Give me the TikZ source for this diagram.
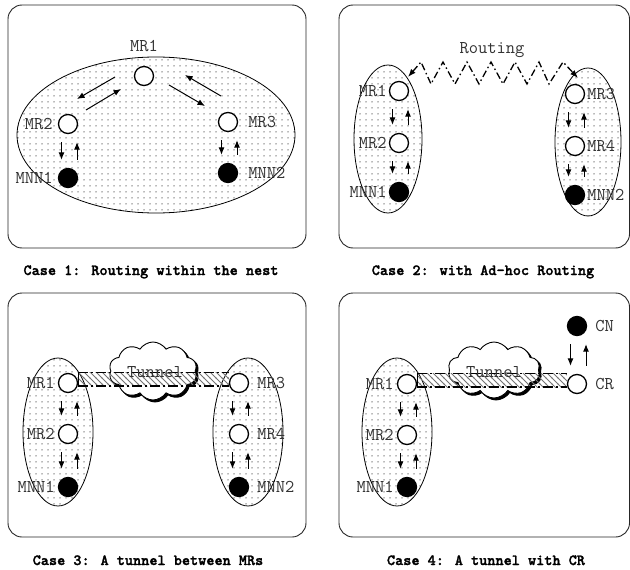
\documentclass[tikz,border=0pt]{standalone}
\usepackage{fontspec}
\newfontfamily\captionmono{lmmonolt10-bold.otf}[FakeBold=1.6]
\usetikzlibrary{arrows.meta,calc,shapes.symbols,patterns,shadows}

% light stipple used inside the nests
\pgfdeclarepatternformonly{sparsedots}{\pgfqpoint{-1pt}{-1pt}}{\pgfqpoint{1pt}{1pt}}{\pgfqpoint{6pt}{6pt}}{%
  \pgfpathcircle{\pgfqpoint{0pt}{0pt}}{0.75pt}\pgfusepath{fill}}
% diagonal hatching of the tunnel pipe
\pgfdeclarepatternformonly{pipehatch}{\pgfqpoint{-1pt}{-1pt}}{\pgfqpoint{7pt}{7pt}}{\pgfqpoint{6pt}{6pt}}{%
  \pgfsetlinewidth{0.9pt}%
  \pgfpathmoveto{\pgfqpoint{-0.5pt}{6.5pt}}\pgfpathlineto{\pgfqpoint{6.5pt}{-0.5pt}}\pgfusepath{stroke}}

\tikzset{
  panel/.style={draw=black!85, line width=0.9pt, rounded corners=14pt},
  nest/.style={draw=black, line width=0.8pt, pattern=sparsedots, pattern color=black!55},
  router/.style={circle, draw=black, line width=1.3pt, fill=white, minimum size=19pt, inner sep=0pt},
  host/.style={router, fill=black},
  lbl/.style={font=\ttfamily\fontsize{18}{18}\selectfont, text=black!80, inner sep=0pt},
  caption/.style={font=\captionmono\fontsize{15.5}{16}\selectfont, inner sep=0pt, anchor=base},
  hop/.style={-{Latex[length=7.5pt,width=6pt]}, line width=1pt},
  zigzagroute/.style={{Latex[length=8pt,width=6pt]}-{Latex[length=8pt,width=6pt]}, line width=1.3pt,
    dash pattern=on 7pt off 3pt on 1.5pt off 3pt},
  cloudbox/.style={cloud, cloud puffs=10, cloud puff arc=115, draw=black, line width=0.9pt, fill=white,
    inner sep=0pt, copy shadow={shadow xshift=2pt, shadow yshift=-2pt, fill=black, draw=black}},
  pipeedge/.style={line width=1.1pt, dash pattern=on 10pt off 3pt on 2pt off 3pt},
}

% a downward and an upward arrow between two stacked nodes
\newcommand{\hoppair}[2]{%
  \draw[hop, shorten <=8pt, shorten >=8pt] ([xshift=-6.5pt]#1.south) -- ([xshift=-6.5pt]#2.north);
  \draw[hop, shorten <=8pt, shorten >=8pt] ([xshift=9pt]#2.north) -- ([xshift=9pt]#1.south);}

% hatched tunnel pipe from the east side of #1 to the west side of #2
\newcommand{\pipe}[2]{%
  \fill[pattern=pipehatch, pattern color=black!55] (#1.east |- #1.north) rectangle ($(#2.west)+(0,3)$);
  \draw[pipeedge] (#1.east |- #1.north) -- (#2.west |- #1.north);
  \draw[pipeedge] ($(#1.east)+(0,3)$) -- ($(#2.west)+(0,3)$);
  \draw[line width=1.1pt] (#1.east |- #1.north) -- ($(#1.east)+(0,3)$);}

\begin{document}
\begin{tikzpicture}[x=1pt, y=-1pt]
\useasboundingbox (0,0) rectangle (630,570);

% ---------------- Case 1 ----------------
\draw[panel] (8,5) rectangle (306,248);
\path[nest] (156,135) ellipse [x radius=139, y radius=78];
\node[router, label={[lbl,label distance=14pt]above:MR1}] (p1mr1) at (144,76) {};
\node[router, label={[lbl,label distance=5pt]left:MR2}] (p1mr2) at (68,124) {};
\node[router, label={[lbl,label distance=10pt]right:MR3}] (p1mr3) at (228,122) {};
\node[host, label={[lbl,label distance=5pt]left:MNN1}] (p1mnn1) at (68,178) {};
\node[host, label={[lbl,label distance=10pt]right:MNN2}] (p1mnn2) at (228,173) {};
\draw[hop] ($(p1mr1)+(-29,1)$) -- ($(p1mr1)+(-67,23)$);
\draw[hop] ($(p1mr2)+(18,-14)$) -- ($(p1mr2)+(53,-35)$);
\draw[hop] ($(p1mr1)+(25,9)$) -- ($(p1mr1)+(61,30)$);
\draw[hop] ($(p1mr3)+(-7,-26)$) -- ($(p1mr3)+(-43,-47)$);
\hoppair{p1mr2}{p1mnn1}
\hoppair{p1mr3}{p1mnn2}
\node[caption] (cap1) at (151,275) {Case 1: Routing within the nest};

% ---------------- Case 2 ----------------
\draw[panel] (339,5) rectangle (629.5,248);
\path[nest] (388,139) ellipse [x radius=34, y radius=74];
\path[nest] (588,142) ellipse [x radius=33, y radius=74];
\node[router, label={[lbl,label distance=2pt]left:MR1}] (p2mr1) at (399,91) {};
\node[router, label={[lbl,label distance=2pt]left:MR2}] (p2mr2) at (399,143) {};
\node[host, label={[lbl,label distance=2pt]left:MNN1}] (p2mnn1) at (399,192) {};
\node[router, label={[lbl,label distance=2pt]right:MR3}] (p2mr3) at (575,94) {};
\node[router, label={[lbl,label distance=2pt]right:MR4}] (p2mr4) at (575,146) {};
\node[host, label={[lbl,label distance=2pt]right:MNN2}] (p2mnn2) at (575,195) {};
\hoppair{p2mr1}{p2mr2}
\hoppair{p2mr2}{p2mnn1}
\hoppair{p2mr3}{p2mr4}
\hoppair{p2mr4}{p2mnn2}
\node[lbl, anchor=base] (p2route) at (492,53) {Routing};
\draw[zigzagroute] ($(p2mr1)+(9,-14)$) -- (421,62) -- (431,84) -- (443,62) -- (455,84) -- (467,62)
  -- (479,84) -- (491,62) -- (503,84) -- (515,62) -- (527,84) -- (539,62) -- (549,84) -- (563,62)
  -- ($(p2mr3)+(3,-16)$);
\node[caption] (cap2) at (483,275) {Case 2: with Ad-hoc Routing};

% ---------------- Case 3 ----------------
\draw[panel] (8,293) rectangle (306,537);
\path[nest] (58,432) ellipse [x radius=35, y radius=74];
\path[nest] (248,432) ellipse [x radius=35, y radius=74];
\node[router, label={[lbl,label distance=3pt]left:MR1}] (p3mr1) at (68,383) {};
\node[router, label={[lbl,label distance=3pt]left:MR2}] (p3mr2) at (68,434) {};
\node[host, label={[lbl,label distance=3pt]left:MNN1}] (p3mnn1) at (68,487) {};
\node[router, label={[lbl,label distance=8pt]right:MR3}] (p3mr3) at (239,383) {};
\node[router, label={[lbl,label distance=8pt]right:MR4}] (p3mr4) at (239,434) {};
\node[host, label={[lbl,label distance=8pt]right:MNN2}] (p3mnn2) at (239,487) {};
\hoppair{p3mr1}{p3mr2}
\hoppair{p3mr2}{p3mnn1}
\hoppair{p3mr3}{p3mr4}
\hoppair{p3mr4}{p3mnn2}
\node[cloudbox, minimum width=88pt, minimum height=58pt] (p3cloud) at (153,371) {};
\pipe{p3mr1}{p3mr3}
\node[lbl] (p3tunnel) at ($(p3cloud.center)+(2,1)$) {Tunnel};
\node[caption] (cap3) at (148,565) {Case 3: A tunnel between MRs};

% ---------------- Case 4 ----------------
\draw[panel] (339,293) rectangle (629.5,537);
\path[nest] (397,432) ellipse [x radius=35, y radius=74];
\node[router, label={[lbl,label distance=3pt]left:MR1}] (p4mr1) at (407,384) {};
\node[router, label={[lbl,label distance=3pt]left:MR2}] (p4mr2) at (407,435) {};
\node[host, label={[lbl,label distance=3pt]left:MNN1}] (p4mnn1) at (407,487) {};
\node[router, label={[lbl,label distance=8pt]right:CR}] (p4cr) at (577,384) {};
\node[host, label={[lbl,label distance=8pt]right:CN}] (p4cn) at (577,326) {};
\hoppair{p4mr1}{p4mr2}
\hoppair{p4mr2}{p4mnn1}
\hoppair{p4cn}{p4cr}
\node[cloudbox, minimum width=92pt, minimum height=56pt] (p4cloud) at (494,370) {};
\pipe{p4mr1}{p4cr}
\node[lbl] (p4tunnel) at ($(p4cloud.center)+(0,2)$) {Tunnel};
\node[caption] (cap4) at (486,565) {Case 4: A tunnel with CR};
\end{tikzpicture}
\end{document}
